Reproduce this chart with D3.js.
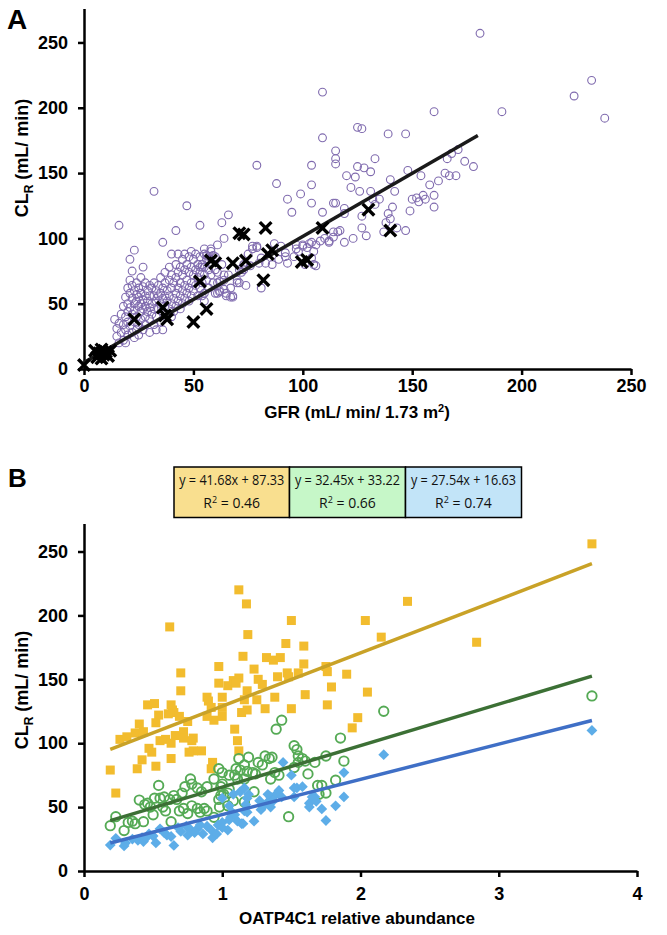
<!DOCTYPE html>
<html><head><meta charset="utf-8">
<script src="https://cdn.jsdelivr.net/npm/d3@7"></script>
<style>
html,body{margin:0;padding:0;background:#fff;}
svg{display:block;}
.tick text{font-family:"Liberation Sans",Arial,sans-serif;font-weight:bold;font-size:18px;fill:#000;}
</style></head>
<body>
<svg id="chart" width="667" height="935"></svg>
<script>
// ---------- Panel A data ----------
const gfrTicks = [0, 50, 100, 150, 200, 250];
const clrTicks = [0, 50, 100, 150, 200, 250];
const panelACircles = [
[16,110],[23,91],[27,78],[21,84],[32,136],[42,106],[36,97],[47,125],[53,110],[63,112],[66,118],[79,156],[88,142],
[109,212],[109,177],[104,141],[104,156],[99,134],[93,130],[95,120],[104,127],[115,161],[115,157],[115,167],[115,127],
[109,120],[181,257],[232,221],[224,209],[238,192],[191,197],[160,197],[125,185],[127,184],[139,180],[147,180],[133,161],
[125,155],[128,154],[131,151],[120,148],[124,147],[148,152],[154,148],[140,145],[142,136],[122,139],[126,136],[131,136],
[119,123],[119,119],[132,130],[135,130],[133,126],[141,124],[139,119],[140,115],[138,112],[127,117],[127,108],[129,102],
[117,106],[114,105],[112,97],[123,100],[119,97],[137,105],[143,108],[147,106],[149,121],[150,130],[152,131],[155,133],
[153,128],[156,130],[160,133],[160,124],[158,141],[162,144],[165,150],[167,148],[170,148],[166,161],[168,165],[171,168],
[174,159],[178,155],[101,80],[104,85],[105,90],[102,93],[106,79],[104,97],[100,94],[97,92],[96,86],[98,90],[108,98],
[110,100],[89,84],[92,86],[86,80],[87,96],[90,94],[77,92],[79,93],[81,62],[83,81],[73,76],[75,88],[76,79],[70,66],
[68,56],[65,58],[64,72],[62,67],[60,76],[58,90],[57,86],[55,92],[54,80],[53,78],
[114,127],[64,100],[61,95],[58,92],[59,87],[56,87],[57,84],[55,78],[77,94],[79,94],[81,85],
[80,81],[73,80],[71,76],[71,66],[97,95],[100,95],[103,96],[106,95],[112,98],[114,101],[116,105],[92,89],[93,81],
[105,80],[61,66],[62,59],[64,61],[67,55],[61,58],[54,56],[55,52],
[14,38],[15,31],[15,25],[16,35],[16,20],[17,42],[17,28],[18,48],[18,34],[18,22],[19,55],[19,40],[19,30],[19,20],[20,62],
[20,50],[20,44],[20,36],[20,26],[21,68],[21,58],[21,47],[21,33],[22,75],[22,64],[22,54],[22,42],[22,28],[23,60],[23,50],
[23,45],[23,36],[23,24],[24,66],[24,57],[24,52],[24,40],[24,30],[25,62],[25,55],[25,48],[25,34],[25,26],[26,70],[26,58],
[26,50],[26,44],[26,38],[27,63],[27,53],[27,46],[27,30],[28,66],[28,56],[28,48],[28,40],[28,34],[29,60],[29,52],[29,44],
[30,64],[30,56],[30,47],[30,38],[30,28],[31,62],[31,50],[31,42],[32,66],[32,56],[32,46],[32,34],[33,60],[33,52],[33,40],
[33,30],[34,64],[34,56],[34,46],[35,70],[35,58],[35,50],[35,36],[36,62],[36,54],[36,44],[36,30],[37,74],[37,66],[37,56],
[37,48],[38,60],[38,52],[38,42],[39,78],[39,68],[39,56],[39,46],[40,88],[40,72],[40,62],[40,50],[40,40],[41,66],[41,54],
[41,44],[42,80],[42,70],[42,58],[42,48],[43,88],[43,74],[43,62],[43,52],[44,78],[44,66],[44,56],[44,46],[45,84],[45,72],
[45,60],[45,50],[46,88],[46,76],[46,64],[46,54],[47,80],[47,68],[47,58],[48,86],[48,74],[48,62],[48,52],[49,90],[49,78],
[49,66],[49,56],[50,84],[50,72],[50,60],[51,88],[51,76],[51,64],[52,80],[52,70],[52,56],[53,86],[53,74],[53,62],[54,78],
[54,66],[55,88],[55,72],[55,58],[56,84],[56,68],[57,76],[57,62],[58,72],[59,66],[60,86],[60,58],[61,74],[62,60],[63,80],
[64,68],[65,56],[66,72],[67,62],[68,55],[70,68],[72,74],[74,64]
];
const panelACrosses = [
[0,3],[5,14],[6,9],[7,12],[8,8],[8,15],[9,11],[10,13],[11,10],[12,14],[23,38],[36,47],[37,41],[38,38],[50,36],[53,67],
[56,46],[58,83],[60,81],[68,81],[71,104],[73,103],[74,83],[82,68],[83,108],[84,88],[86,91],[99.5,82],[102,83.5],[109,108],
[130,122],[140,106]
];
const panelAFit = [[0, 5], [180, 178.7]];

// ---------- Panel B data ----------
const abundTicks = [0, 1, 2, 3, 4];
const clrTicksB = [0, 50, 100, 150, 200, 250];
const yellowSeries = [
[0.19,79],[0.23,61],[0.26,103],[0.31,105],[0.37,108],[0.40,115],[0.43,109],[0.385,80],[0.42,87],[0.47,96],[0.46,130],
[0.51,131],[0.49,93],[0.52,82],[0.54,122],[0.55,102],[0.59,103],[0.63,100],[0.62,191],[0.63,88],[0.63,130],[0.64,126],
[0.65,124],[0.70,155],[0.70,141],[0.69,121],[0.66,106],[0.72,109],[0.72,104],[0.75,117],[0.78,102],[0.79,104],[0.79,94],
[0.76,93],[0.85,94],[0.89,136],[0.90,133],[0.92,128],[0.94,118],[0.93,85],[0.92,80],[0.975,160],[0.975,147],[1.0,136],
[1.0,128],[1.04,145],[1.09,111],[1.11,102],[1.12,94],[1.08,149],[1.12,151],[1.12,220],[1.175,209],[1.185,185],[1.15,168],
[1.16,134],[1.18,126],[1.18,141],[1.23,158],[1.26,150],[1.29,146],[1.25,134],[1.31,127],[1.32,167],[1.37,165],[1.42,167],
[1.38,136],[1.46,178],[1.47,155],[1.48,152],[1.50,196],[1.50,127],[1.59,176],[1.59,162],[1.60,138],[1.55,155],[1.76,156],
[1.79,144],[1.76,130],[1.75,160],[1.90,154],[1.98,120],[1.94,112],[2.05,140],[2.035,196],[2.15,183],[2.34,211],[2.84,179],
[3.674,256],[0.52,116],[0.61,123],[0.89,121],[1.0,121],[1.1,147],[1.14,124],[1.40,152]
];
const greenSeries = [
[0.19,35.5],[0.23,42.5],[0.29,31.6],[0.32,38],[0.35,39],[0.37,37],[0.40,55.5],[0.44,52],[0.46,53],[0.48,50],[0.50,44],
[0.43,38.6],[0.51,57],[0.54,67],[0.55,57],[0.58,58],[0.62,56],[0.65,59],[0.57,50],[0.59,47],[0.63,38.6],[0.67,56],
[0.71,61],[0.73,66],[0.77,72],[0.78,68],[0.69,47],[0.72,49],[0.75,45],[0.78,51],[0.82,49],[0.84,46],[0.87,49],[0.82,65],
[0.85,62],[0.89,66],[0.94,72],[0.89,47],[0.94,42],[0.975,56],[0.99,59],[1.01,60],[1.04,61],[0.99,66],[0.975,80],[1.0,77],
[1.05,75],[1.09,75],[1.11,72],[1.16,72],[1.12,88],[1.19,89],[1.16,83],[1.10,80],[1.13,79],[1.18,78],[1.22,77],[1.24,76],
[1.08,55],[1.16,54],[1.23,62],[1.26,85],[1.29,83],[1.31,90],[1.34,88],[1.36,89],[1.38,77],[1.35,72],[1.41,75],[1.43,118],
[1.39,111],[1.48,42.5],[1.52,98],[1.54,95],[1.55,90],[1.55,85],[1.58,88],[1.52,81],[1.62,76],[1.60,86],[1.67,85],[1.75,90],
[1.72,67],[1.75,61],[1.855,104],[1.88,86],[1.82,71],[1.69,67],[1.70,60],[1.0,68],[1.05,64],[3.674,137],[2.168,125],
[0.98,50],[1.04,51]
];
const blueSeries = [
[0.19,20.3],[0.23,25.6],[0.29,19.6],[0.35,25],[0.39,24],[0.42,26],[0.43,23],[0.47,29],[0.50,27.4],[0.55,33],[0.60,28],
[0.63,27],[0.65,20],[0.70,31],[0.74,35],[0.77,32.5],[0.82,33],[0.86,29],[0.89,35],[0.92,32],[0.93,26],[0.97,36],[1.0,38],
[1.04,32],[1.06,42],[1.09,44],[1.11,39],[1.16,47],[1.17,52],[1.18,57],[1.19,60],[1.14,37],[1.23,39],[1.28,48],[1.30,51],
[1.33,54],[1.35,58],[1.38,59],[1.41,63],[1.44,85],[1.50,75],[1.52,65],[1.54,65],[1.58,66],[1.63,53],[1.67,58],[1.72,48.6],
[1.75,39.5],[1.82,51],[1.52,58],[1.33,60],[1.37,55],[1.27,55],[1.35,50],[1.43,58],[1.65,58],[1.68,54.5],[1.63,50],
[1.88,77],[1.88,58],[1.15,37],[1.05,40],[1.0,34],[1.18,46],[1.13,62],[1.16,65],[1.08,60],[1.0,57],[1.05,51],[3.674,110],
[2.168,91],[0.58,30],[0.68,34],[0.80,30],[0.96,29],[0.45,26],[0.30,22],[0.84,36],[1.07,46],[0.52,22],[0.75,28]
];
const fits = [
  {slope: 41.68, intercept: 87.33, r2: "0.46", color: "#C9A227", fill: "#F9DF8F"},
  {slope: 32.45, intercept: 33.22, r2: "0.66", color: "#3C7035", fill: "#C6F7C8"},
  {slope: 27.54, intercept: 16.63, r2: "0.74", color: "#3F6FC6", fill: "#C2E4F8"}
];
const fitRange = [0.19, 3.674];

// ---------- drawing ----------
const svg = d3.select("#chart");
const FONT = '"Liberation Sans", Arial, sans-serif';

function styleAxis(g){
  g.select(".domain").attr("stroke","#000").attr("stroke-width",2.5);
  g.selectAll(".tick line").attr("stroke","#000").attr("stroke-width",2.5);
}

// Panel A scales
const xA = d3.scaleLinear().domain([0,250]).range([84,631]);
const yA = d3.scaleLinear().domain([0,276]).range([369,8.5]);

const gA = svg.append("g");
gA.append("g").attr("transform","translate(0,369)")
  .call(d3.axisBottom(xA).tickValues(gfrTicks).tickSize(6).tickSizeOuter(0).tickPadding(4))
  .call(styleAxis);
gA.append("g").attr("transform","translate(84,0)")
  .call(d3.axisLeft(yA).tickValues(clrTicks).tickSize(6).tickSizeOuter(0).tickPadding(10))
  .call(styleAxis);

gA.append("g").selectAll("circle").data(panelACircles).join("circle")
  .attr("cx",d=>xA(d[0])).attr("cy",d=>yA(d[1])).attr("r",3.9)
  .attr("fill","none").attr("stroke","#7F6AAE").attr("stroke-width",1.1);

gA.append("line")
  .attr("x1",xA(panelAFit[0][0])).attr("y1",yA(panelAFit[0][1]))
  .attr("x2",xA(panelAFit[1][0])).attr("y2",yA(panelAFit[1][1]))
  .attr("stroke","#1a1a1a").attr("stroke-width",3.5);

const cs = 5.8;
const crossG = gA.append("g").selectAll("g").data(panelACrosses).join("g")
  .attr("transform",d=>`translate(${xA(d[0])},${yA(d[1])})`);
crossG.append("path").attr("d",`M${-cs},${-cs}L${cs},${cs}M${-cs},${cs}L${cs},${-cs}`)
  .attr("stroke","#000").attr("stroke-width",3.4);

// Panel A labels
svg.append("text").attr("x",7).attr("y",29).attr("font-family",FONT).attr("font-weight","bold")
  .attr("font-size",28).text("A");
const tA = svg.append("text").attr("font-family",FONT).attr("font-weight","bold").attr("font-size",17)
  .attr("text-anchor","middle").attr("x",357).attr("y",418);
tA.append("tspan").text("GFR (mL/ min/ 1.73 m");
tA.append("tspan").attr("font-size",11).attr("dy",-6).text("2");
tA.append("tspan").attr("dy",6).text(")");
const yTA = svg.append("text").attr("font-family",FONT).attr("font-weight","bold").attr("font-size",18)
  .attr("text-anchor","middle").attr("transform","translate(28,158) rotate(-90)");
yTA.append("tspan").text("CL");
yTA.append("tspan").attr("font-size",12).attr("dy",5).text("R");
yTA.append("tspan").attr("dy",-5).text(" (mL/ min)");

// Panel B scales
const xB = d3.scaleLinear().domain([0,4]).range([84,637]);
const yB = d3.scaleLinear().domain([0,272]).range([871,523.4]);
const gB = svg.append("g");
gB.append("g").attr("transform","translate(0,871)")
  .call(d3.axisBottom(xB).tickValues(abundTicks).tickFormat(d3.format("d")).tickSize(6).tickSizeOuter(0).tickPadding(10))
  .call(styleAxis);
gB.append("g").attr("transform","translate(84,0)")
  .call(d3.axisLeft(yB).tickValues(clrTicksB).tickSize(6).tickSizeOuter(0).tickPadding(10))
  .call(styleAxis);

// markers
gB.append("g").selectAll("rect").data(yellowSeries).join("rect")
  .attr("x",d=>xB(d[0])-4.5).attr("y",d=>yB(d[1])-4.5).attr("width",9).attr("height",9)
  .attr("fill","#F2BC2E");
gB.append("g").selectAll("circle").data(greenSeries).join("circle")
  .attr("cx",d=>xB(d[0])).attr("cy",d=>yB(d[1])).attr("r",4.7)
  .attr("fill","none").attr("stroke","#55AA55").attr("stroke-width",1.9);
const ds = 5.4;
gB.append("g").selectAll("path").data(blueSeries).join("path")
  .attr("transform",d=>`translate(${xB(d[0])},${yB(d[1])})`)
  .attr("d",`M0,${-ds}L${ds},0L0,${ds}L${-ds},0Z`).attr("fill","#5DADE8");

// trend lines
gB.append("g").selectAll("line").data(fits).join("line")
  .attr("x1",xB(fitRange[0])).attr("x2",xB(fitRange[1]))
  .attr("y1",d=>yB(d.slope*fitRange[0]+d.intercept))
  .attr("y2",d=>yB(d.slope*fitRange[1]+d.intercept))
  .attr("stroke",d=>d.color).attr("stroke-width",3.5);

// legend boxes
const boxX = [174, 289.5, 405.5, 521.5];
const lg = svg.append("g").selectAll("g").data(fits).join("g");
lg.append("rect").attr("x",(d,i)=>boxX[i]).attr("y",467).attr("width",(d,i)=>boxX[i+1]-boxX[i]).attr("height",50.5)
  .attr("fill",d=>d.fill).attr("stroke","#000").attr("stroke-width",1.5);
lg.append("text").attr("x",(d,i)=>(boxX[i]+boxX[i+1])/2).attr("y",485)
  .attr("text-anchor","middle").attr("font-family",'"Open Sans", sans-serif').attr("font-size",14).attr("fill","#111")
  .attr("textLength",105).attr("lengthAdjust","spacingAndGlyphs")
  .text(d=>`y = ${d.slope.toFixed(2)}x + ${d.intercept.toFixed(2)}`);
const r2t = lg.append("text").attr("x",(d,i)=>(boxX[i]+boxX[i+1])/2).attr("y",508)
  .attr("text-anchor","middle").attr("font-family",'"Open Sans", sans-serif').attr("font-size",14).attr("fill","#111");
r2t.append("tspan").text("R");
r2t.append("tspan").attr("font-size",9).attr("dy",-5).text("2");
r2t.append("tspan").attr("dy",5).text(d=>` = ${d.r2}`);

svg.append("text").attr("x",8).attr("y",487).attr("font-family",FONT).attr("font-weight","bold")
  .attr("font-size",26).text("B");
svg.append("text").attr("font-family",FONT).attr("font-weight","bold").attr("font-size",17)
  .attr("text-anchor","middle").attr("x",357).attr("y",924).text("OATP4C1 relative abundance");
const yTB = svg.append("text").attr("font-family",FONT).attr("font-weight","bold").attr("font-size",18)
  .attr("text-anchor","middle").attr("transform","translate(28,690) rotate(-90)");
yTB.append("tspan").text("CL");
yTB.append("tspan").attr("font-size",12).attr("dy",5).text("R");
yTB.append("tspan").attr("dy",-5).text(" (mL/ min)");
</script>
</body></html>
